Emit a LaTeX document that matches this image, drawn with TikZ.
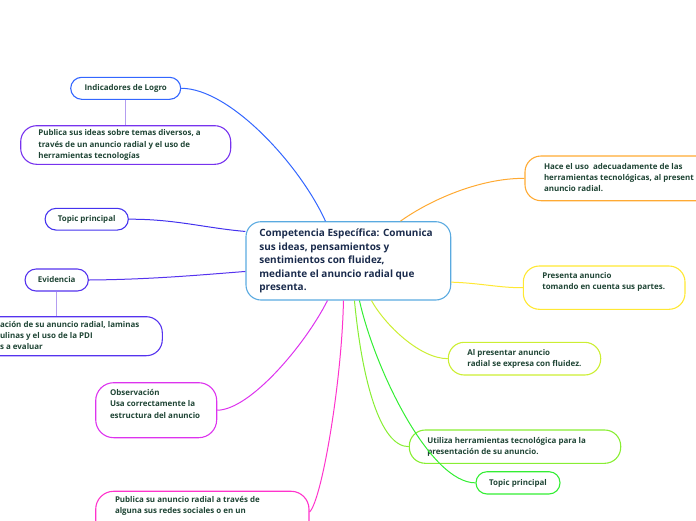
\documentclass[tikz,border=0pt]{standalone}
\usepackage{fontspec}
\setmainfont{Open Sans}
\definecolor{txt}{HTML}{1E4434}
\definecolor{ctxt}{HTML}{1A2B4C}
\definecolor{cCen}{HTML}{5AAAE0}
\definecolor{cInd}{HTML}{3366FF}
\definecolor{cPid}{HTML}{7733EE}
\definecolor{cTl}{HTML}{4433EE}
\definecolor{cEv}{HTML}{5533EE}
\definecolor{cObs}{HTML}{DD33EE}
\definecolor{cPan}{HTML}{FF33CC}
\definecolor{cHace}{HTML}{FFAA33}
\definecolor{cPres}{HTML}{FFE833}
\definecolor{cAlp}{HTML}{CCEE33}
\definecolor{cUt}{HTML}{88EE33}
\definecolor{cTr}{HTML}{33EE33}
\definecolor{cSub}{HTML}{B39DF0}
\newcommand\tb[2]{\makebox[#1][l]{\begin{tabular}{@{}l@{}}#2\end{tabular}}}
\begin{document}
\begin{tikzpicture}[x=1pt,y=-1pt,
  satfont/.style={font=\fontsize{7.95}{11.3}\selectfont\bfseries, text=txt},
  pill/.style={satfont, draw, line width=1.1pt, rounded corners=11pt, inner sep=0pt, text height=7.9pt, text depth=3.4pt},
  box/.style={satfont, draw, line width=1.1pt, rounded corners=16pt, inner ysep=0pt},
  link/.style={line width=1pt},
  sub/.style={line width=0.9pt, draw=cSub}]
\useasboundingbox (0,0) rectangle (696,520);

% central
\node[draw=cCen, line width=1.1pt, rounded corners=15pt, minimum width=204.7pt, minimum height=78.3pt, inner xsep=13.35pt, inner ysep=0pt, font=\fontsize{10}{13.5}\selectfont\bfseries, text=ctxt] (cen) at (348.35,260.85)
 {\tb{178pt}{Competencia Específica: Comunica\\ sus ideas, pensamientos y\\ sentimientos con fluidez,\\ mediante el anuncio radial que\\ presenta.}};

% left side
\node[pill, draw=cInd, minimum width=110pt, minimum height=22pt] (ind) at (125.7,88.3) {Indicadores de Logro};
\node[box, draw=cPid, inner xsep=17.6pt, minimum height=38.6pt] (pid) at (125.7,145)
 {\tb{174.8pt}{Publica sus ideas sobre temas diversos, a\\ través de un anuncio radial y el uso de\\ herramientas tecnologías}};
\node[pill, draw=cTl, minimum width=83.3pt, minimum height=21.7pt] (tl) at (86.7,219.2) {Topic principal};
\node[pill, draw=cEv, minimum width=63.3pt, minimum height=22pt] (ev) at (56.7,280) {Evidencia};
\node[box, draw=cEv, inner xsep=20pt, minimum height=39pt] (pr) at (71.15,336.2)
 {\tb{142.3pt}{ación de su anuncio radial, laminas\\ ulinas y el uso de la PDI\\ s a evaluar}};
\node[box, draw=cObs, rounded corners=18pt, inner xsep=14.3pt, minimum height=55pt] (obs) at (156.2,410.2)
 {\tb{92.4pt}{Observación\\ Usa correctamente la\\ estructura del anuncio\\ \mbox{}}};
\node[box, draw=cPan, rounded corners=18pt, inner xsep=19.3pt, inner ysep=3pt, anchor=north] (pan) at (202.35,490.7)
 {\tb{174.7pt}{Publica su anuncio radial a través de\\ alguna sus redes sociales o en un\\ \mbox{}\\ \mbox{}}};

% right side
\node[box, draw=cHace, inner xsep=19pt, minimum height=44.7pt] (hace) at (624,178.35)
 {\tb{160pt}{Hace el uso\ \ adecuadamente de las\\ herramientas tecnológicas, al present\\ anuncio radial.}};
\node[box, draw=cPres, inner xsep=19pt, minimum height=43.3pt] (pres) at (604.15,287.65)
 {\tb{123.7pt}{Presenta anuncio\\ tomando en cuenta sus partes.\\ \mbox{}}};
\node[box, draw=cAlp, inner xsep=19pt, minimum height=32.7pt] (alp) at (524.5,358.65)
 {\tb{114.4pt}{Al presentar anuncio\\ radial se expresa con fluidez.}};
\node[box, draw=cUt, inner xsep=18pt, minimum height=33.3pt] (ut) at (515,446.65)
 {\tb{175.4pt}{Utiliza herramientas tecnológica para la\\ presentación de su anuncio.}};
\node[pill, draw=cTr, minimum width=84pt, minimum height=22.3pt] (tr) at (518,482.85) {Topic principal};

% connectors
\draw[link, cInd] (ind.east) .. controls (230,88.3) and (300,165) .. ([xshift=80pt]cen.north west);
\draw[link, cTl] (tl.east) .. controls (175,219) and (205,228) .. ([yshift=-10.3pt]cen.north west);
\draw[link, cEv] (ev.east) .. controls (150,279.5) and (200,275) .. ([yshift=-50.3pt]cen.north west);
\draw[link, cObs] (obs.east) .. controls (250,410) and (305,345) .. ([xshift=82pt]cen.south west);
\draw[link, cPan] ([xshift=98pt]cen.south west) .. controls (342,380) and (322,500) .. ([yshift=-21.3pt]pan.north east);
\draw[link, cAlp] ([xshift=126pt]cen.south west) .. controls (385,325) and (420,358.7) .. (alp.west);
\draw[link, cUt] ([xshift=109pt]cen.south west) .. controls (362,380) and (380,446.7) .. (ut.west);
\draw[link, cTr] ([xshift=114pt]cen.south west) .. controls (375,370) and (430,482.8) .. (tr.west);
\draw[link, cHace] ([xshift=155pt]cen.north west) .. controls (430,200) and (480,178) .. (hace.west);
\draw[link, cPres] ([yshift=-61pt]cen.north east) .. controls (480,283) and (500,288) .. (pres.west);
\draw[sub] (ind.south) -- (pid.north);
\draw[sub] (ev.south) -- (ev.south |- pr.north);
\end{tikzpicture}
\end{document}
